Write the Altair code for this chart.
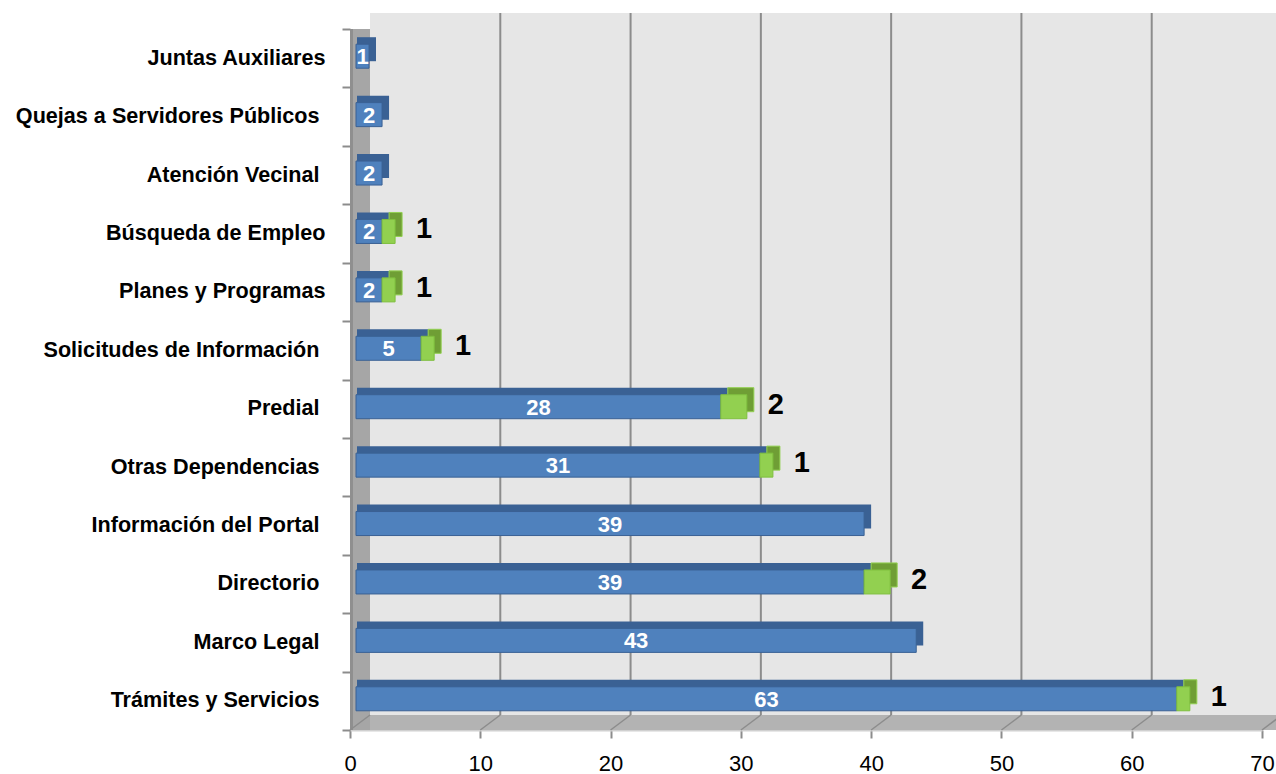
import altair as alt
import pandas as pd

SP = "\u00a0\u200b"
categories = [
    "Juntas Auxiliares",
    "Quejas a Servidores Públicos" + SP,
    "Atención Vecinal" + SP,
    "Búsqueda de Empleo",
    "Planes y Programas",
    "Solicitudes de Información" + SP,
    "Predial" + SP,
    "Otras Dependencias" + SP,
    "Información del Portal" + SP,
    "Directorio" + SP,
    "Marco Legal" + SP,
    "Trámites y Servicios" + SP,
]
blue_vals = [1, 2, 2, 2, 2, 5, 28, 31, 39, 39, 43, 63]
green_vals = [None, None, None, 1, 1, 1, 2, 1, None, 2, None, 1]
x_ticks = [0, 10, 20, 30, 40, 50, 60, 70]
grid_vals = [10, 20, 30, 40, 50, 60]

rows = []
for c, b, g in zip(categories, blue_vals, green_vals):
    rows.append({"cat": c, "blue": b, "green": g,
                 "total": b + (g if g else 0)})
df = pd.DataFrame(rows)
gdf = df[df["green"].notna()].copy()
ticks_df = pd.DataFrame({"v": x_ticks})
grid_df = pd.DataFrame({"v": grid_vals})
one = pd.DataFrame({"a": [0]})

FONT = "Liberation Sans"

xscale = alt.Scale(domain=[0, 70], nice=False, zero=True)
yenc = alt.Y("cat:N", sort=categories, title=None,
             scale=alt.Scale(paddingInner=0, paddingOuter=0),
             axis=alt.Axis(labelFont=FONT, labelFontSize=21.6,
                           labelFontWeight="bold", labelColor="#000000",
                           labelLimit=0,
                           tickColor="#8c8c8c", tickSize=8, tickWidth=2,
                           tickBand="extent", labelPadding=17,
                           domain=False, grid=False))
xaxis = alt.Axis(values=x_ticks, labelFont=FONT, labelFontSize=22,
                 labelColor="#000000", tickColor="#8c8c8c", tickSize=8,
                 tickWidth=2, domainColor="#d0d0d0", domainWidth=2,
                 labelPadding=15, labelFlush=False, grid=False, title=None)

back_wall = alt.Chart(one).mark_rect(color="#e6e6e6").encode(
    x=alt.value(20), x2=alt.value(926), y=alt.value(-16), y2=alt.value(686))
floor = alt.Chart(one).mark_rect(color="#b3b3b3").encode(
    x=alt.value(0), x2=alt.value(926), y=alt.value(686), y2=alt.value(701))
left_wall = alt.Chart(one).mark_rect(color="#a6a6a6").encode(
    x=alt.value(0), x2=alt.value(20), y=alt.value(0), y2=alt.value(701))
left_edge = alt.Chart(one).mark_rect(color="#8f8f8f").encode(
    x=alt.value(0), x2=alt.value(3), y=alt.value(0), y2=alt.value(701))

grid = alt.Chart(grid_df).mark_rule(color="#8c8c8c", strokeWidth=2,
                                    xOffset=20).encode(
    x=alt.X("v:Q", scale=xscale, axis=xaxis),
    y=alt.value(-16), y2=alt.value(686))
floor_lines = alt.Chart(ticks_df).mark_rule(color="#8c8c8c", strokeWidth=1.5,
                                            x2Offset=20).encode(
    x=alt.X("v:Q", scale=xscale, axis=xaxis), x2="v:Q",
    y=alt.value(701), y2=alt.value(686))

blue_back = alt.Chart(df).mark_bar(size=24, color="#3a6194", xOffset=13,
                                   x2Offset=7, yOffset=-9).encode(
    y=yenc, x=alt.X("blue:Q", scale=xscale, axis=xaxis), x2=alt.datum(0))
green_back = alt.Chart(gdf).mark_bar(size=24, color="#6f9e35", stroke="#92d050",
                                     strokeWidth=1, xOffset=13,
                                     x2Offset=13, yOffset=-9).encode(
    y=yenc, x=alt.X("total:Q", scale=xscale, axis=xaxis), x2="blue:Q")
blue_front = alt.Chart(df).mark_bar(size=24, color="#4f81bd", stroke="#3a6194",
                                    strokeWidth=1, xOffset=6, x2Offset=6,
                                    yOffset=-2).encode(
    y=yenc, x=alt.X("blue:Q", scale=xscale, axis=xaxis), x2=alt.datum(0))
green_front = alt.Chart(gdf).mark_bar(size=24, color="#92d050", stroke="#7fbf3f",
                                      strokeWidth=1, xOffset=6, x2Offset=6,
                                      yOffset=-2).encode(
    y=yenc, x=alt.X("total:Q", scale=xscale, axis=xaxis), x2="blue:Q")

blue_text = alt.Chart(df).transform_calculate(mid="datum.blue/2").mark_text(
    font=FONT, fontSize=22, fontWeight="bold", color="white", xOffset=6,
    yOffset=-1, baseline="middle", align="center").encode(
    y=yenc, x=alt.X("mid:Q", scale=xscale, axis=xaxis), text="blue:Q")
green_text = alt.Chart(gdf).mark_text(
    font=FONT, fontSize=29, fontWeight="bold", color="black", xOffset=6,
    dx=29, yOffset=-4, baseline="middle", align="center").encode(
    y=yenc, x=alt.X("total:Q", scale=xscale, axis=xaxis), text="green:Q")

chart = alt.layer(back_wall, floor, left_wall, left_edge, grid, floor_lines,
                  blue_back, green_back, blue_front, green_front,
                  blue_text, green_text).properties(
    width=912, height=701,
    autosize=alt.AutoSizeParams(type="none"),
    padding={"left": 350, "top": 29, "right": 14, "bottom": 44},
    background="white",
).configure_view(stroke=None).configure_axisX(
    labelFontSize=22, labelFont=FONT, labelFlush=False, labelPadding=15
)

chart.save("out.html", embed_options={"renderer": "svg", "actions": False})
